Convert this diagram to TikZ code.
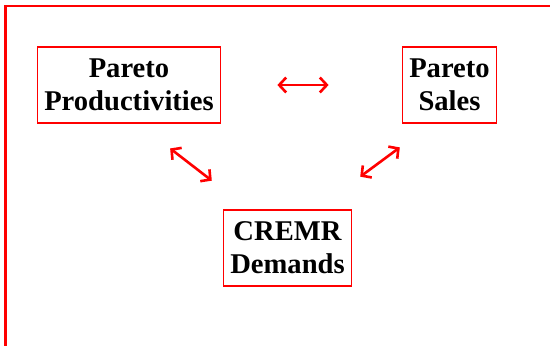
\documentclass[tikz,border=0pt]{standalone}
\usepackage{xcolor}
\usepackage{fontspec}
\setmainfont{Liberation Serif}
\usepackage{tikz}
\usetikzlibrary{arrows.meta}

\begin{document}
\begin{tikzpicture}[x=1pt, y=-1pt,
                    box/.style={draw=red, line width=1.3pt, align=center, inner xsep=7pt,
                        minimum height=76pt, font=\bfseries\fontsize{28.6}{33}\selectfont},
                    link/.style={red, line width=2.6pt, {Straight Barb[length=7pt,width=15pt]}-{Straight Barb[length=7pt,width=15pt]}}]
                    \useasboundingbox (0,0) rectangle (550,346);
                    \draw[red, line width=2.3pt] (5.5,346) -- (5.5,6) -- (550,6);

                    \node[box] (prod) at (129,85) {Pareto\\Productivities};
                    \node[box] (sales) at (449.5,85) {Pareto\\Sales};
                    \node[box] (cremr) at (287.5,248) {CREMR\\Demands};

                    \draw[link, shorten <=56pt, shorten >=73pt] (prod.east) -- (sales.west);
                    \draw[link, shorten <=40.6pt, shorten >=47pt] ([xshift=9pt]prod.south) -- ([xshift=-38.5pt]cremr.north);
                    \draw[link, shorten <=40pt, shorten >=55pt] ([xshift=-17.5pt]sales.south) -- ([xshift=28.5pt]cremr.north);
                \end{tikzpicture}
\end{document}
